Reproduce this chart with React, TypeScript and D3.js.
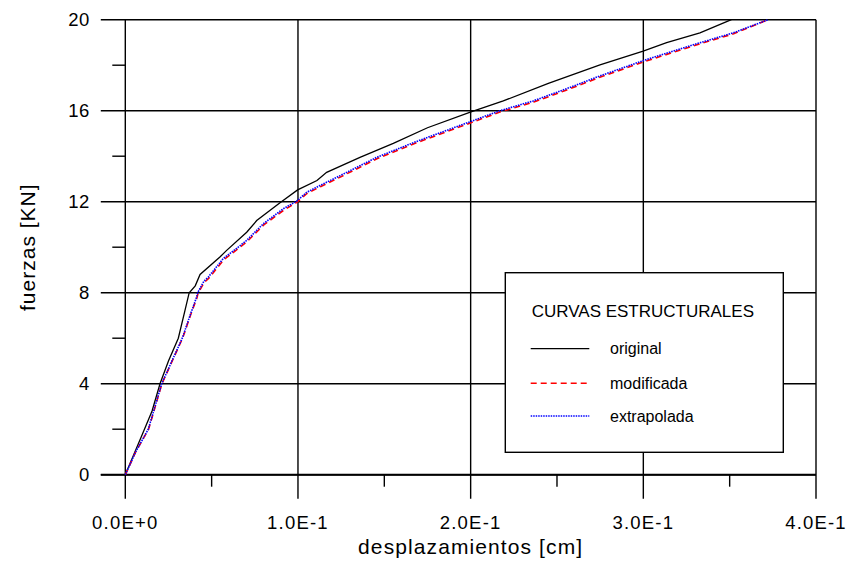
import React from "react";
import * as d3 from "d3";

// Displacement [cm] / force [KN] pairs for each structural curve
const originalDisp = [0, 0.005, 0.01, 0.0155, 0.0201, 0.025, 0.0307, 0.0345, 0.037, 0.0405, 0.0433, 0.0548, 0.0587, 0.0703, 0.0761, 0.0896, 0.0998, 0.111, 0.1166, 0.1359, 0.1552, 0.175, 0.2002, 0.2189, 0.245, 0.2749, 0.2999, 0.3135, 0.3328, 0.351];
const originalForce = [0, 0.9, 1.8, 2.8, 4.0, 5.0, 6.0, 7.2, 8.0, 8.3, 8.8, 9.57, 9.86, 10.66, 11.17, 11.95, 12.52, 12.93, 13.29, 13.95, 14.56, 15.25, 15.95, 16.43, 17.2, 18.01, 18.62, 18.99, 19.42, 20.0];

const modifiedDisp = [0, 0.006, 0.0135, 0.0212, 0.0272, 0.0332, 0.0377, 0.0415, 0.0421, 0.0457, 0.0484, 0.057, 0.0648, 0.0706, 0.0802, 0.0918, 0.0995, 0.1052, 0.113, 0.1228, 0.146, 0.169, 0.2005, 0.2173, 0.2366, 0.2553, 0.2752, 0.3002, 0.3311, 0.3523, 0.3723];
const modifiedForce = [0, 1.0, 2.0, 4.0, 5.0, 6.0, 7.0, 7.78, 7.97, 8.45, 8.64, 9.45, 9.9, 10.25, 10.98, 11.63, 11.98, 12.36, 12.66, 13.02, 13.9, 14.6, 15.48, 15.95, 16.38, 16.9, 17.48, 18.15, 18.9, 19.38, 20.0];

const extrapDisp = [0, 0.006, 0.0133, 0.0211, 0.027, 0.033, 0.0375, 0.0413, 0.0419, 0.0455, 0.0481, 0.0567, 0.0645, 0.0703, 0.0799, 0.0915, 0.0992, 0.105, 0.1127, 0.1224, 0.1456, 0.1687, 0.2002, 0.217, 0.2362, 0.255, 0.2749, 0.2999, 0.3308, 0.352, 0.3723];
const extrapForce = [0, 1.0, 2.0, 4.0, 5.0, 6.0, 7.0, 7.81, 8.0, 8.5, 8.69, 9.5, 9.95, 10.3, 11.03, 11.69, 12.02, 12.41, 12.71, 13.07, 13.95, 14.65, 15.53, 16.0, 16.43, 16.95, 17.53, 18.2, 18.94, 19.42, 20.0];

const xMajorTicks = [0, 0.1, 0.2, 0.3, 0.4];
const xTickLabels = ["0.0E+0", "1.0E-1", "2.0E-1", "3.0E-1", "4.0E-1"];
const xMinorTicks = [0.05, 0.15, 0.25, 0.35];
const yMajorTicks = [0, 4, 8, 12, 16, 20];
const yMinorTicks = [2, 6, 10, 14, 18];

const seriesNames = ["original", "modificada", "extrapolada"];
const legendTitle = "CURVAS ESTRUCTURALES";

const W = 849;
const H = 562;
const left = 125.3;
const right = 816;
const top = 19.7;
const bottom = 474.7;
const FONT = "'Liberation Sans', Arial, sans-serif";

export default function App() {
  const x = d3.scaleLinear().domain([0, 0.4]).range([left, right]);
  const y = d3.scaleLinear().domain([0, 20]).range([bottom, top]);

  const line = d3
    .line<[number, number]>()
    .x((d) => x(d[0]))
    .y((d) => y(d[1]));

  const zip = (a: number[], b: number[]) => a.map((v, i) => [v, b[i]] as [number, number]);

  const series = [
    { pts: zip(originalDisp, originalForce), color: "#000000", dash: undefined as string | undefined, w: 1.3 },
    { pts: zip(modifiedDisp, modifiedForce), color: "#ff0000", dash: "6,4", w: 1.6 },
    { pts: zip(extrapDisp, extrapForce), color: "#0000ff", dash: "1.5,1", w: 1.6 },
  ];

  // legend layout
  const lg = { x0: 505.3, y0: 272.7, x1: 783.3, y1: 452.3 };
  const legendRows = [348.7, 383.3, 416];

  return (
    <svg
      width={W}
      height={H}
      style={{ position: "fixed", left: 0, top: 0, background: "#fff" }}
      fontFamily={FONT}
    >
      <rect x={0} y={0} width={W} height={H} fill="#fff" />

      {/* grid */}
      {xMajorTicks.map((t) => (
        <line key={"gx" + t} x1={x(t)} x2={x(t)} y1={top} y2={bottom + 24} stroke="#000" strokeWidth={1.4} />
      ))}
      {yMajorTicks.map((t) => (
        <line key={"gy" + t} x1={left - 24.5} x2={right} y1={y(t)} y2={y(t)} stroke="#000" strokeWidth={1.4} />
      ))}
      {xMinorTicks.map((t) => (
        <line key={"mx" + t} x1={x(t)} x2={x(t)} y1={bottom} y2={bottom + 12} stroke="#000" strokeWidth={1.4} />
      ))}
      {yMinorTicks.map((t) => (
        <line key={"my" + t} x1={left - 13} x2={left} y1={y(t)} y2={y(t)} stroke="#000" strokeWidth={1.4} />
      ))}
      <line x1={left - 24.5} x2={right} y1={bottom} y2={bottom} stroke="#000" strokeWidth={2} />

      {/* tick labels */}
      {xMajorTicks.map((t, i) => (
        <text key={"lx" + t} x={x(t)} y={529} textAnchor="middle" fontSize={18.5} letterSpacing={1.2} fill="#000">
          {xTickLabels[i]}
        </text>
      ))}
      {yMajorTicks.map((t) => (
        <text key={"ly" + t} x={90} y={y(t)} textAnchor="end" dominantBaseline="central" fontSize={18.5} letterSpacing={0.6} fill="#000">
          {t}
        </text>
      ))}

      {/* axis titles */}
      <text x={(left + right) / 2} y={554} textAnchor="middle" fontSize={21} letterSpacing={1.1} fill="#000">
        desplazamientos [cm]
      </text>
      <text
        transform={`translate(27,${(top + bottom) / 2}) rotate(-90)`}
        textAnchor="middle"
        dominantBaseline="central"
        fontSize={21}
        letterSpacing={1}
        fill="#000"
      >
        fuerzas [KN]
      </text>

      {/* curves */}
      {series.map((s, i) => (
        <path
          key={"s" + i}
          d={line(s.pts) || ""}
          fill="none"
          stroke={s.color}
          strokeWidth={s.w}
          strokeDasharray={s.dash}
        />
      ))}

      {/* legend */}
      <rect x={lg.x0} y={lg.y0} width={lg.x1 - lg.x0} height={lg.y1 - lg.y0} fill="#fff" stroke="#000" strokeWidth={1.4} />
      <text x={531.7} y={311} dominantBaseline="central" fontSize={17} fill="#000">
        {legendTitle}
      </text>
      {series.map((s, i) => (
        <g key={"lg" + i}>
          <line
            x1={530.7}
            x2={589.3}
            y1={legendRows[i]}
            y2={legendRows[i]}
            stroke={s.color}
            strokeWidth={s.w}
            strokeDasharray={s.dash}
          />
          <text x={610} y={legendRows[i]} dominantBaseline="central" fontSize={16} fill="#000">
            {seriesNames[i]}
          </text>
        </g>
      ))}
    </svg>
  );
}
